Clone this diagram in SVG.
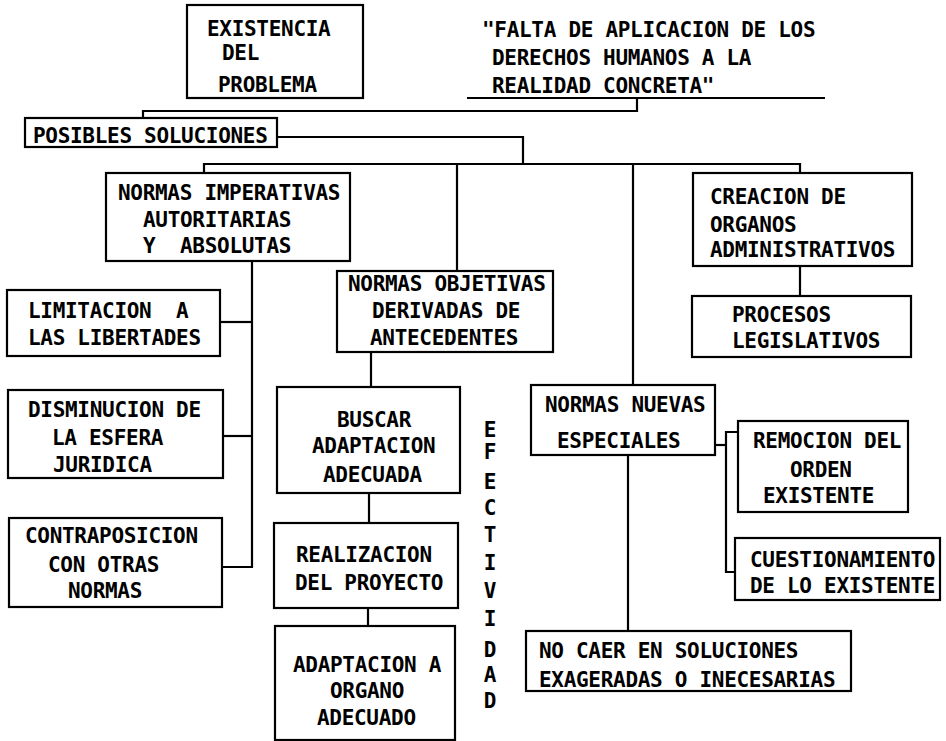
<svg xmlns="http://www.w3.org/2000/svg" width="946" height="741" viewBox="0 0 946 741">
<style>
rect.b{fill:none;stroke:#000;stroke-width:2.2}
text{font-family:"DejaVu Sans Mono","Liberation Mono",monospace;font-size:21px;font-weight:bold;letter-spacing:-0.3px;fill:#000}
text.v{text-anchor:middle}
#connectors path{fill:none;stroke:#000;stroke-width:2.2}
</style>
<rect width="946" height="741" fill="#fff"/>
<g id="connectors">
<path d="M467,98 H825"/>
<path d="M637,98 V111 H143 V118"/>
<path d="M277,137 H523 V163"/>
<path d="M204,173 V164 H800 V173"/>
<path d="M457,164 V271"/>
<path d="M633,164 V385"/>
<path d="M252,261 V567 H223"/>
<path d="M220,322 H252"/>
<path d="M223,436 H252"/>
<path d="M371,352 V387"/>
<path d="M369,493 V523"/>
<path d="M368,608 V626"/>
<path d="M800,266 V296"/>
<path d="M628,455 V631"/>
<path d="M715,445 H726"/>
<path d="M738,432 H726 V572 H735"/>
</g>
<g id="existencia"><rect class="b" x="187" y="5" width="176" height="93"/>
<text x="207" y="36">EXISTENCIA</text><text x="222" y="60">DEL</text><text x="218" y="92">PROBLEMA</text></g>
<g id="titulo">
<text x="482" y="37">"FALTA DE APLICACION DE LOS</text>
<text x="492" y="65">DERECHOS HUMANOS A LA</text>
<text x="492" y="93">REALIDAD CONCRETA"</text></g>
<g id="posibles"><rect class="b" x="25" y="118" width="252" height="29"/>
<text x="33" y="143">POSIBLES SOLUCIONES</text></g>
<g id="imperativas"><rect class="b" x="106" y="173" width="244" height="88"/>
<text x="118" y="200">NORMAS IMPERATIVAS</text><text x="143" y="227">AUTORITARIAS</text><text x="143" y="253" xml:space="preserve">Y  ABSOLUTAS</text></g>
<g id="limitacion"><rect class="b" x="7" y="290" width="213" height="66"/>
<text x="28" y="318" xml:space="preserve">LIMITACION  A</text><text x="28" y="345">LAS LIBERTADES</text></g>
<g id="disminucion"><rect class="b" x="8" y="390" width="215" height="88"/>
<text x="28" y="417">DISMINUCION DE</text><text x="52" y="445">LA ESFERA</text><text x="53" y="472">JURIDICA</text></g>
<g id="contraposicion"><rect class="b" x="9" y="518" width="213" height="89"/>
<text x="25" y="543">CONTRAPOSICION</text><text x="48" y="572">CON OTRAS</text><text x="68" y="598">NORMAS</text></g>
<g id="objetivas"><rect class="b" x="337" y="271" width="216" height="81"/>
<text x="348" y="291">NORMAS OBJETIVAS</text><text x="372" y="318">DERIVADAS DE</text><text x="370" y="345">ANTECEDENTES</text></g>
<g id="buscar"><rect class="b" x="277" y="387" width="183" height="106"/>
<text x="337" y="427">BUSCAR</text><text x="312" y="453">ADAPTACION</text><text x="323" y="482">ADECUADA</text></g>
<g id="realizacion"><rect class="b" x="274" y="523" width="184" height="85"/>
<text x="296" y="562">REALIZACION</text><text x="295" y="590">DEL PROYECTO</text></g>
<g id="adaptacion"><rect class="b" x="275" y="626" width="180" height="114"/>
<text x="293" y="672">ADAPTACION A</text><text x="330" y="698">ORGANO</text><text x="317" y="725">ADECUADO</text></g>
<g id="efectividad">
<text class="v" x="490" y="437">E</text><text class="v" x="490" y="459">F</text><text class="v" x="490" y="489">E</text><text class="v" x="490" y="515">C</text><text class="v" x="490" y="542">T</text><text class="v" x="490" y="570">I</text><text class="v" x="490" y="598">V</text><text class="v" x="490" y="626">I</text><text class="v" x="490" y="657">D</text><text class="v" x="490" y="682">A</text><text class="v" x="490" y="708">D</text></g>
<g id="creacion"><rect class="b" x="693" y="173" width="219" height="93"/>
<text x="710" y="204">CREACION DE</text><text x="710" y="232">ORGANOS</text><text x="710" y="257">ADMINISTRATIVOS</text></g>
<g id="procesos"><rect class="b" x="692" y="296" width="219" height="61"/>
<text x="732" y="322">PROCESOS</text><text x="732" y="348">LEGISLATIVOS</text></g>
<g id="nuevas"><rect class="b" x="531" y="385" width="184" height="70"/>
<text x="545" y="412">NORMAS NUEVAS</text><text x="557" y="448">ESPECIALES</text></g>
<g id="remocion"><rect class="b" x="738" y="421" width="170" height="91"/>
<text x="753" y="448">REMOCION DEL</text><text x="790" y="477">ORDEN</text><text x="763" y="503">EXISTENTE</text></g>
<g id="cuestionamiento"><rect class="b" x="735" y="538" width="205" height="62"/>
<text x="750" y="567">CUESTIONAMIENTO</text><text x="750" y="593">DE LO EXISTENTE</text></g>
<g id="nocaer"><rect class="b" x="526" y="631" width="325" height="60"/>
<text x="539" y="658">NO CAER EN SOLUCIONES</text><text x="539" y="687">EXAGERADAS O INECESARIAS</text></g>
</svg>
